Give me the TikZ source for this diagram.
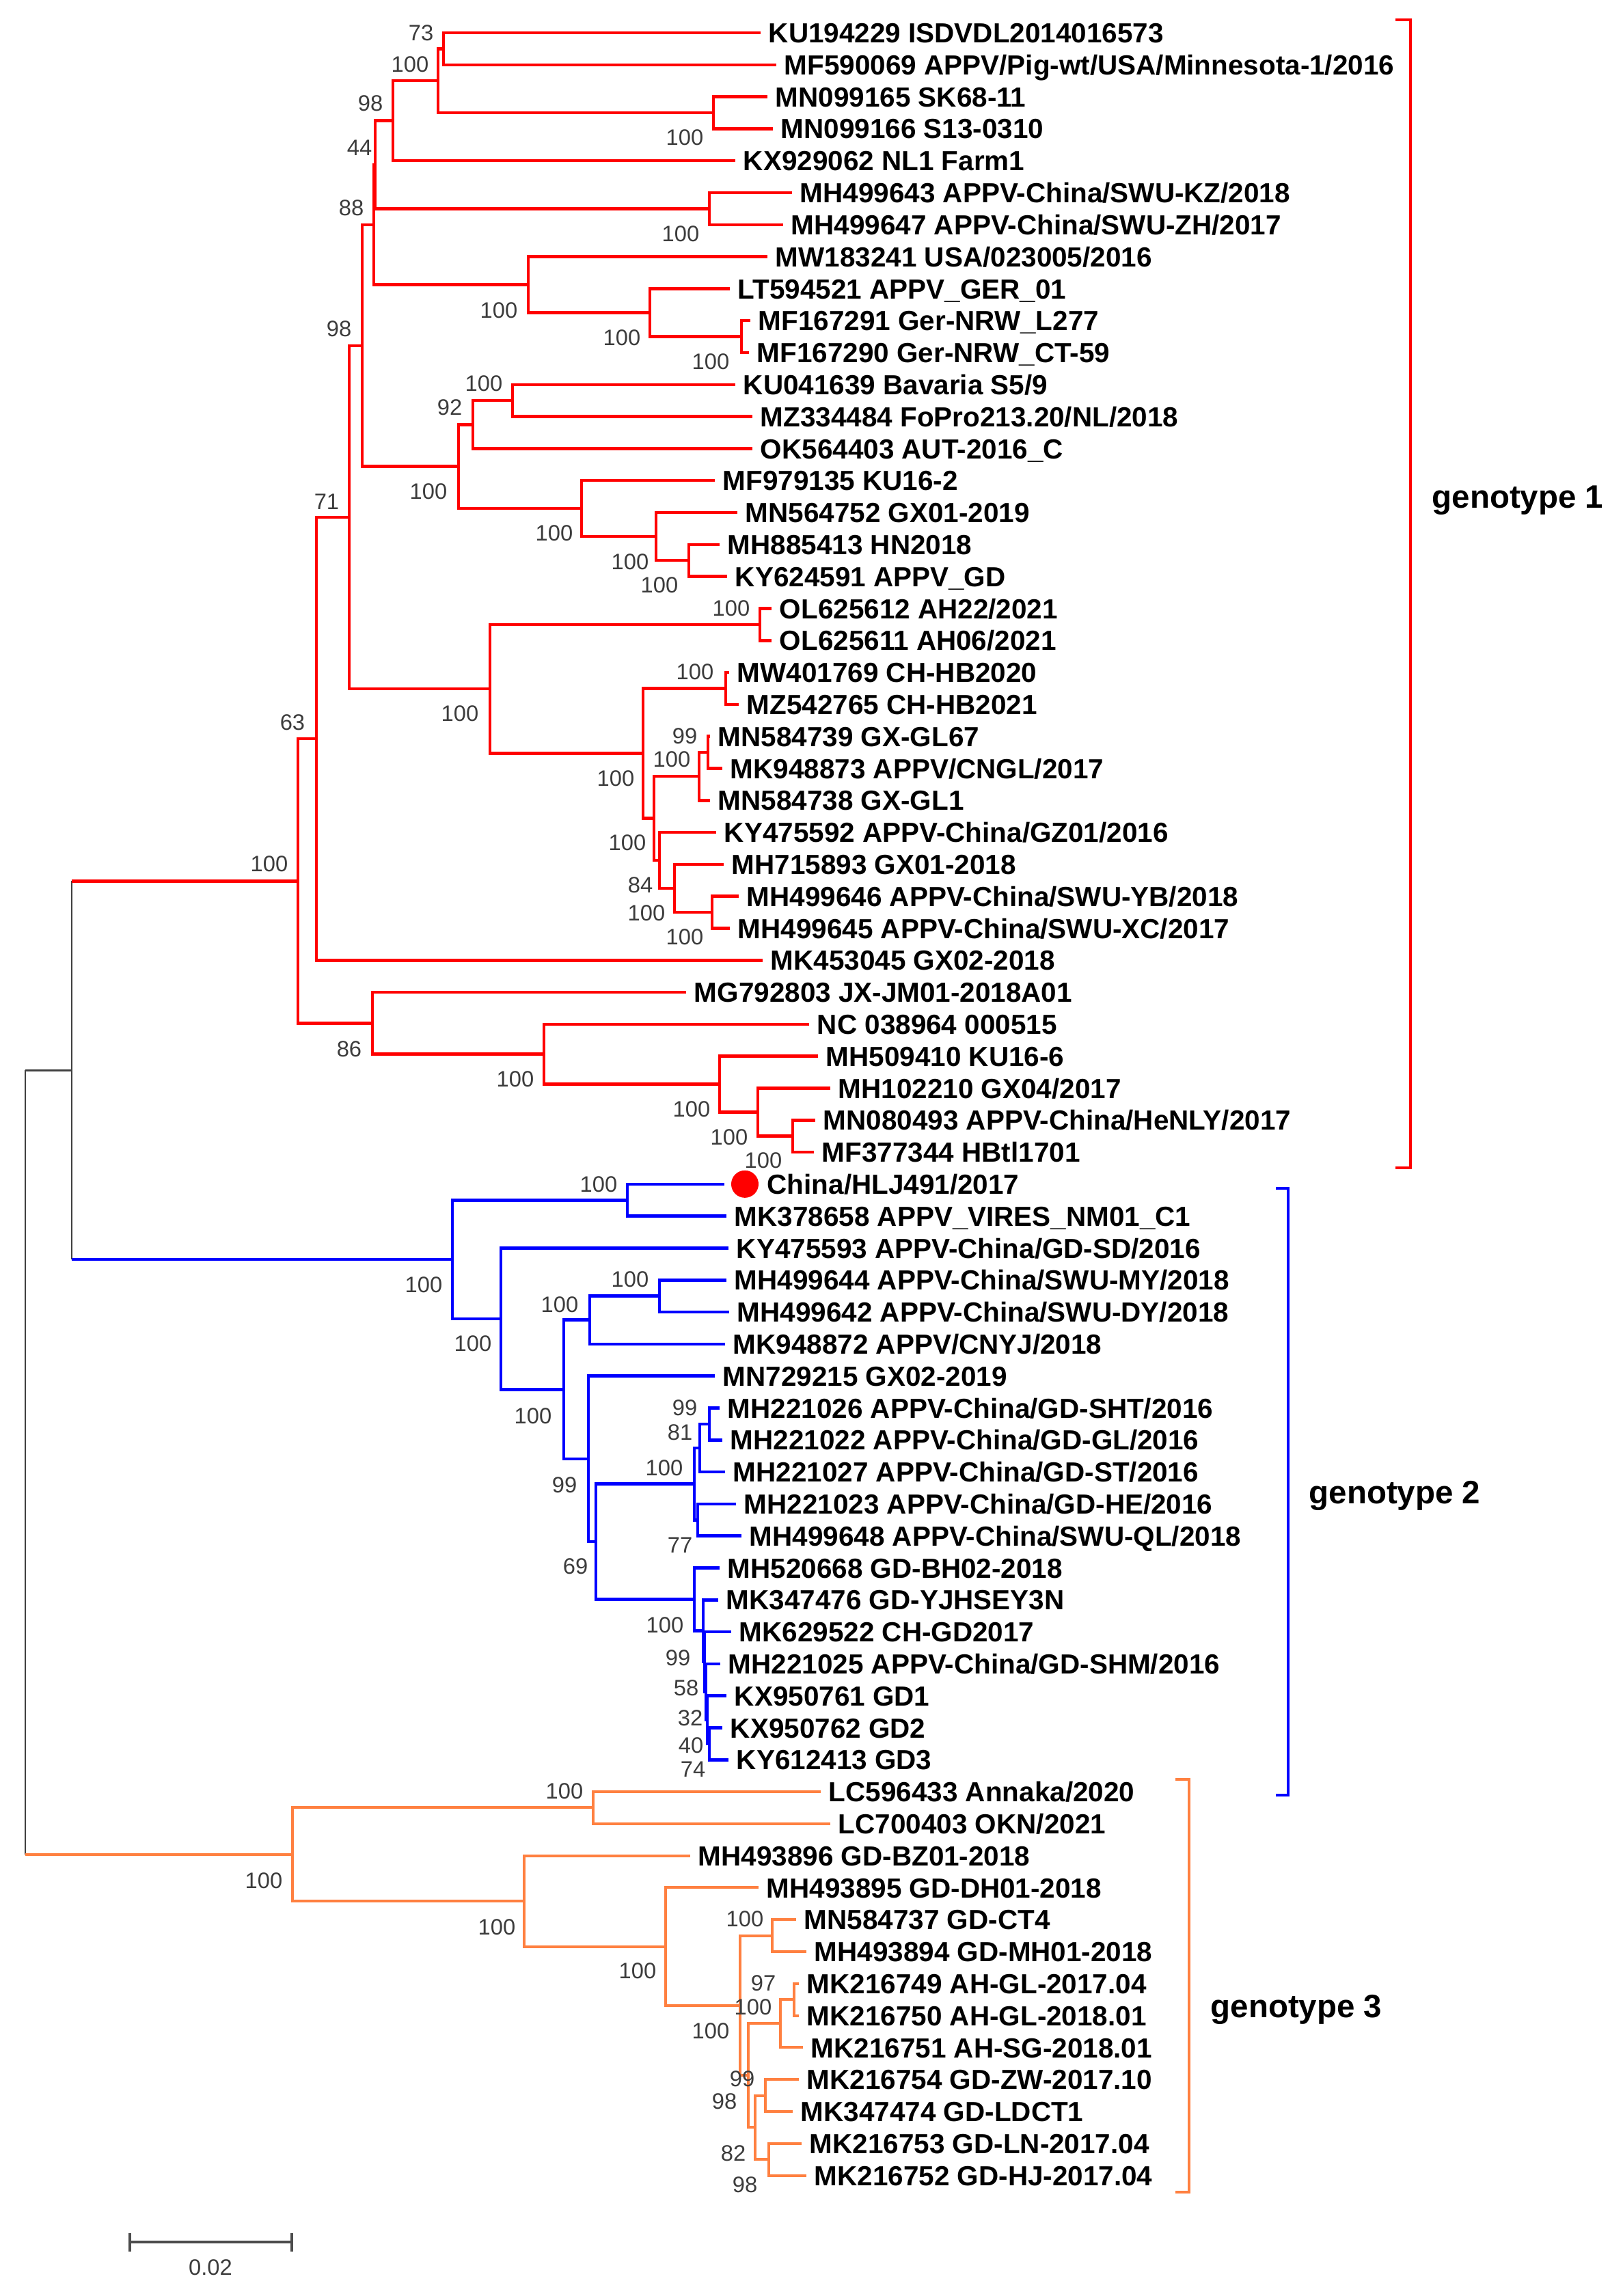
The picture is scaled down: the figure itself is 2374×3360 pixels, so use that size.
\documentclass[tikz,border=0pt]{standalone}
\usepackage{fontspec}
\setmainfont{Liberation Sans}
\usetikzlibrary{positioning}
\definecolor{gred}{RGB}{255,0,0}
\definecolor{gblue}{RGB}{0,0,255}
\definecolor{gorange}{RGB}{255,128,64}
\definecolor{bootgray}{RGB}{60,60,60}

\begin{document}
\begin{tikzpicture}[x=0.01cm, y=-0.01cm,
  redline/.style={draw=gred, line width=1.3pt},
  blueline/.style={draw=gblue, line width=1.3pt},
  orangeline/.style={draw=gorange, line width=1.15pt},
  rootline/.style={draw=black!75, line width=0.8pt},
  taxon/.style={anchor=west, inner xsep=3.2pt, inner ysep=0pt, text height=8.3pt, text depth=0pt, font=\bfseries\fontsize{11.5}{13}\selectfont},
  boot/.style={inner sep=0pt, text height=6.7pt, text depth=0pt, text=bootgray, font=\fontsize{9.3}{11}\selectfont},
  clade/.style={anchor=base west, inner sep=0pt, font=\bfseries\fontsize{13.5}{15}\selectfont},
  bracket/.style={line width=1pt}]

\useasboundingbox (0,0) rectangle (2374,3360);

% genotype 1 taxa
\node[taxon] (t1) at (1113,48) {KU194229 ISDVDL2014016573};
\node[taxon] (t2) at (1136,94.8) {MF590069 APPV/Pig-wt/USA/Minnesota-1/2016};
\node[taxon] (t3) at (1123,141.6) {MN099165 SK68-11};
\node[taxon] (t4) at (1131,188.4) {MN099166 S13-0310};
\node[taxon] (t5) at (1076,235.2) {KX929062 NL1 Farm1};
\node[taxon] (t6) at (1159,282) {MH499643 APPV-China/SWU-KZ/2018};
\node[taxon] (t7) at (1146,328.8) {MH499647 APPV-China/SWU-ZH/2017};
\node[taxon] (t8) at (1123,375.6) {MW183241 USA/023005/2016};
\node[taxon] (t9) at (1068,422.4) {LT594521 APPV\_GER\_01};
\node[taxon] (t10) at (1098,469.2) {MF167291 Ger-NRW\_L277};
\node[taxon] (t11) at (1096,516) {MF167290 Ger-NRW\_CT-59};
\node[taxon] (t12) at (1076,562.8) {KU041639 Bavaria S5/9};
\node[taxon] (t13) at (1101,609.6) {MZ334484 FoPro213.20/NL/2018};
\node[taxon] (t14) at (1101,656.4) {OK564403 AUT-2016\_C};
\node[taxon] (t15) at (1046,703.2) {MF979135 KU16-2};
\node[taxon] (t16) at (1079,750) {MN564752 GX01-2019};
\node[taxon] (t17) at (1053,796.8) {MH885413 HN2018};
\node[taxon] (t18) at (1064,843.6) {KY624591 APPV\_GD};
\node[taxon] (t19) at (1129,890.4) {OL625612 AH22/2021};
\node[taxon] (t20) at (1129,937.2) {OL625611 AH06/2021};
\node[taxon] (t21) at (1067,984) {MW401769 CH-HB2020};
\node[taxon] (t22) at (1081,1030.8) {MZ542765 CH-HB2021};
\node[taxon] (t23) at (1039,1077.6) {MN584739 GX-GL67};
\node[taxon] (t24) at (1057,1124.4) {MK948873 APPV/CNGL/2017};
\node[taxon] (t25) at (1039,1171.2) {MN584738 GX-GL1};
\node[taxon] (t26) at (1048,1218) {KY475592 APPV-China/GZ01/2016};
\node[taxon] (t27) at (1059,1264.8) {MH715893 GX01-2018};
\node[taxon] (t28) at (1081,1311.6) {MH499646 APPV-China/SWU-YB/2018};
\node[taxon] (t29) at (1068,1358.4) {MH499645 APPV-China/SWU-XC/2017};
\node[taxon] (t30) at (1116,1405.2) {MK453045 GX02-2018};
\node[taxon] (t31) at (1004,1452) {MG792803 JX-JM01-2018A01};
\node[taxon] (t32) at (1184,1498.8) {NC 038964 000515};
\node[taxon] (t33) at (1197,1545.6) {MH509410 KU16-6};
\node[taxon] (t34) at (1215,1592.4) {MH102210 GX04/2017};
\node[taxon] (t35) at (1193,1639.2) {MN080493 APPV-China/HeNLY/2017};
\node[taxon] (t36) at (1191,1686) {MF377344 HBtl1701};

% genotype 2 taxa
\coordinate (e37) at (1060,1732.8);
\node[circle, fill=gred, minimum size=0.4cm, inner sep=0pt] (dot) at (1090,1732.8) {};
\node[taxon] (t37) at (dot.east) {China/HLJ491/2017};
\node[taxon] (t38) at (1063,1779.6) {MK378658 APPV\_VIRES\_NM01\_C1};
\node[taxon] (t39) at (1066,1826.4) {KY475593 APPV-China/GD-SD/2016};
\node[taxon] (t40) at (1063,1873.2) {MH499644 APPV-China/SWU-MY/2018};
\node[taxon] (t41) at (1067,1920) {MH499642 APPV-China/SWU-DY/2018};
\node[taxon] (t42) at (1061,1966.8) {MK948872 APPV/CNYJ/2018};
\node[taxon] (t43) at (1046,2013.6) {MN729215 GX02-2019};
\node[taxon] (t44) at (1053,2060.4) {MH221026 APPV-China/GD-SHT/2016};
\node[taxon] (t45) at (1057,2107.2) {MH221022 APPV-China/GD-GL/2016};
\node[taxon] (t46) at (1061,2154) {MH221027 APPV-China/GD-ST/2016};
\node[taxon] (t47) at (1077,2200.8) {MH221023 APPV-China/GD-HE/2016};
\node[taxon] (t48) at (1085,2247.6) {MH499648 APPV-China/SWU-QL/2018};
\node[taxon] (t49) at (1053,2294.4) {MH520668 GD-BH02-2018};
\node[taxon] (t50) at (1051,2341.2) {MK347476 GD-YJHSEY3N};
\node[taxon] (t51) at (1070,2388) {MK629522 CH-GD2017};
\node[taxon] (t52) at (1054,2434.8) {MH221025 APPV-China/GD-SHM/2016};
\node[taxon] (t53) at (1063,2481.6) {KX950761 GD1};
\node[taxon] (t54) at (1057,2528.4) {KX950762 GD2};
\node[taxon] (t55) at (1066,2575.2) {KY612413 GD3};

% genotype 3 taxa
\node[taxon] (t56) at (1201,2622) {LC596433 Annaka/2020};
\node[taxon] (t57) at (1215,2668.8) {LC700403 OKN/2021};
\node[taxon] (t58) at (1010,2715.6) {MH493896 GD-BZ01-2018};
\node[taxon] (t59) at (1110,2762.4) {MH493895 GD-DH01-2018};
\node[taxon] (t60) at (1165,2809.2) {MN584737 GD-CT4};
\node[taxon] (t61) at (1180,2856) {MH493894 GD-MH01-2018};
\node[taxon] (t62) at (1169,2902.8) {MK216749 AH-GL-2017.04};
\node[taxon] (t63) at (1169,2949.6) {MK216750 AH-GL-2018.01};
\node[taxon] (t64) at (1175,2996.4) {MK216751 AH-SG-2018.01};
\node[taxon] (t65) at (1169,3043.2) {MK216754 GD-ZW-2017.10};
\node[taxon] (t66) at (1160,3090) {MK347474 GD-LDCT1};
\node[taxon] (t67) at (1173,3136.8) {MK216753 GD-LN-2017.04};
\node[taxon] (t68) at (1180,3183.6) {MK216752 GD-HJ-2017.04};

% inner nodes, genotype 1
\coordinate (nA) at (649,71.4);
\coordinate (nC) at (1044,165);
\coordinate (nB) at (641,118.2);
\coordinate (nD) at (575,176.7);
\coordinate (nE) at (1038,305.4);
\coordinate (nF) at (549,241.05);
\coordinate (nG) at (1085,492.6);
\coordinate (nH) at (951,457.5);
\coordinate (nI) at (773,416.55);
\coordinate (nJ) at (547,328.8);
\coordinate (nK) at (750,586.2);
\coordinate (nL) at (692,621.3);
\coordinate (nM) at (1008,820.2);
\coordinate (nN) at (960,785.1);
\coordinate (nO) at (851,744.15);
\coordinate (nP) at (671,682.7);
\coordinate (nQ) at (530,505.8);
\coordinate (nR) at (1112,913.8);
\coordinate (nS) at (1062,1007.4);
\coordinate (nW1) at (1036,1101);
\coordinate (nW2) at (1023,1136.1);
\coordinate (nZ2) at (1042,1335);
\coordinate (nZ) at (987,1299.9);
\coordinate (nY) at (965,1258.95);
\coordinate (nV) at (957,1197.5);
\coordinate (nU) at (941,1102.5);
\coordinate (nT) at (717,1008.1);
\coordinate (n71) at (511,756.95);
\coordinate (n63) at (463,1081.1);
\coordinate (nEE) at (1160,1662.6);
\coordinate (nDD) at (1109,1627.5);
\coordinate (nCC) at (1053,1586.55);
\coordinate (nBB) at (796,1542.7);
\coordinate (nAA) at (545,1497.35);
\coordinate (nG1) at (436,1289.2);

% inner nodes, genotype 2
\coordinate (nFF) at (918,1756.2);
\coordinate (nLL) at (965,1896.6);
\coordinate (nJJ) at (863,1931.7);
\coordinate (nPP) at (1038,2083.8);
\coordinate (nQQ) at (1024,2118.9);
\coordinate (nRR) at (1021,2224.2);
\coordinate (nNN) at (1016,2171.55);
\coordinate (nWb) at (1038,2551.8);
\coordinate (nZb) at (1035,2516.7);
\coordinate (nYb) at (1033,2475.75);
\coordinate (nXb) at (1031,2431.9);
\coordinate (nSS) at (1029,2386.55);
\coordinate (nOO) at (1016,2340.5);
\coordinate (nMM) at (872,2256);
\coordinate (nKK) at (861,2134.8);
\coordinate (nII) at (825,2033.25);
\coordinate (nHH) at (733,1929.8);
\coordinate (nGG) at (662,1843);

% inner nodes, genotype 3
\coordinate (nUU) at (868,2645.4);
\coordinate (nYY) at (1130,2832.6);
\coordinate (na1) at (1162,2926.2);
\coordinate (na2) at (1142,2961.3);
\coordinate (na3) at (1120,3066.6);
\coordinate (na4) at (1125,3160.2);
\coordinate (na5) at (1105,3113.4);
\coordinate (na6) at (1095,3037.35);
\coordinate (nXX) at (1083,2935);
\coordinate (nWW) at (974,2848.7);
\coordinate (nVV) at (767,2782.15);
\coordinate (nG3) at (428,2713.8);

\coordinate (nG12) at (105,1566.1);
\coordinate (nroot) at (37,2139.95);

% branches, genotype 1
\draw[redline] (nA) |- (t1.west) (nA) |- (t2.west);
\draw[redline] (nC) |- (t3.west) (nC) |- (t4.west);
\draw[redline] (nB) |- (nA) (nB) |- (nC);
\draw[redline] (nD) |- (nB) (nD) |- (t5.west);
\draw[redline] (nE) |- (t6.west) (nE) |- (t7.west);
\draw[redline] (nF) |- (nD) (nF) |- (nE);
\draw[redline] (nG) |- (t10.west) (nG) |- (t11.west);
\draw[redline] (nH) |- (t9.west) (nH) |- (nG);
\draw[redline] (nI) |- (t8.west) (nI) |- (nH);
\draw[redline] (nJ) |- (nF) (nJ) |- (nI);
\draw[redline] (nK) |- (t12.west) (nK) |- (t13.west);
\draw[redline] (nL) |- (nK) (nL) |- (t14.west);
\draw[redline] (nM) |- (t17.west) (nM) |- (t18.west);
\draw[redline] (nN) |- (t16.west) (nN) |- (nM);
\draw[redline] (nO) |- (t15.west) (nO) |- (nN);
\draw[redline] (nP) |- (nL) (nP) |- (nO);
\draw[redline] (nQ) |- (nJ) (nQ) |- (nP);
\draw[redline] (nR) |- (t19.west) (nR) |- (t20.west);
\draw[redline] (nS) |- (t21.west) (nS) |- (t22.west);
\draw[redline] (nW1) |- (t23.west) (nW1) |- (t24.west);
\draw[redline] (nW2) |- (nW1) (nW2) |- (t25.west);
\draw[redline] (nZ2) |- (t28.west) (nZ2) |- (t29.west);
\draw[redline] (nZ) |- (t27.west) (nZ) |- (nZ2);
\draw[redline] (nY) |- (t26.west) (nY) |- (nZ);
\draw[redline] (nV) |- (nW2) (nV) |- (nY);
\draw[redline] (nU) |- (nS) (nU) |- (nV);
\draw[redline] (nT) |- (nR) (nT) |- (nU);
\draw[redline] (n71) |- (nQ) (n71) |- (nT);
\draw[redline] (n63) |- (n71) (n63) |- (t30.west);
\draw[redline] (nEE) |- (t35.west) (nEE) |- (t36.west);
\draw[redline] (nDD) |- (t34.west) (nDD) |- (nEE);
\draw[redline] (nCC) |- (t33.west) (nCC) |- (nDD);
\draw[redline] (nBB) |- (t32.west) (nBB) |- (nCC);
\draw[redline] (nAA) |- (t31.west) (nAA) |- (nBB);
\draw[redline] (nG1) |- (n63) (nG1) |- (nAA);

% branches, genotype 2
\draw[blueline] (nFF) |- (e37) (nFF) |- (t38.west);
\draw[blueline] (nLL) |- (t40.west) (nLL) |- (t41.west);
\draw[blueline] (nJJ) |- (nLL) (nJJ) |- (t42.west);
\draw[blueline] (nPP) |- (t44.west) (nPP) |- (t45.west);
\draw[blueline] (nQQ) |- (nPP) (nQQ) |- (t46.west);
\draw[blueline] (nRR) |- (t47.west) (nRR) |- (t48.west);
\draw[blueline] (nNN) |- (nQQ) (nNN) |- (nRR);
\draw[blueline] (nWb) |- (t54.west) (nWb) |- (t55.west);
\draw[blueline] (nZb) |- (t53.west) (nZb) |- (nWb);
\draw[blueline] (nYb) |- (t52.west) (nYb) |- (nZb);
\draw[blueline] (nXb) |- (t51.west) (nXb) |- (nYb);
\draw[blueline] (nSS) |- (t50.west) (nSS) |- (nXb);
\draw[blueline] (nOO) |- (t49.west) (nOO) |- (nSS);
\draw[blueline] (nMM) |- (nNN) (nMM) |- (nOO);
\draw[blueline] (nKK) |- (t43.west) (nKK) |- (nMM);
\draw[blueline] (nII) |- (nJJ) (nII) |- (nKK);
\draw[blueline] (nHH) |- (t39.west) (nHH) |- (nII);
\draw[blueline] (nGG) |- (nFF) (nGG) |- (nHH);

% branches, genotype 3
\draw[orangeline] (nUU) |- (t56.west) (nUU) |- (t57.west);
\draw[orangeline] (nYY) |- (t60.west) (nYY) |- (t61.west);
\draw[orangeline] (na1) |- (t62.west) (na1) |- (t63.west);
\draw[orangeline] (na2) |- (na1) (na2) |- (t64.west);
\draw[orangeline] (na3) |- (t65.west) (na3) |- (t66.west);
\draw[orangeline] (na4) |- (t67.west) (na4) |- (t68.west);
\draw[orangeline] (na5) |- (na3) (na5) |- (na4);
\draw[orangeline] (na6) |- (na2) (na6) |- (na5);
\draw[orangeline] (nXX) |- (nYY) (nXX) |- (na6);
\draw[orangeline] (nWW) |- (t59.west) (nWW) |- (nXX);
\draw[orangeline] (nVV) |- (t58.west) (nVV) |- (nWW);
\draw[orangeline] (nG3) |- (nUU) (nG3) |- (nVV);

% root
\draw[rootline] (nG12 |- nG1) -- (nG12 |- nGG);
\draw[redline] (nG12 |- nG1) -- (nG1);
\draw[blueline] (nG12 |- nGG) -- (nGG);
\draw[rootline] (nroot |- nG12) -- (nroot |- nG3);
\draw[rootline] (nroot |- nG12) -- (nG12);
\draw[orangeline] (nroot |- nG3) -- (nG3);

% bootstrap values
\node[boot] (bA) at (616,48) {73};
\node[boot] (bB) at (600,94) {100};
\node[boot] (bD) at (542,151) {98};
\node[boot] (bC) at (1002,201) {100};
\node[boot] (bF) at (526,216) {44};
\node[boot] (bJ) at (514,304) {88};
\node[boot] (bE) at (996,342) {100};
\node[boot] (bI) at (730,454) {100};
\node[boot] (bH) at (910,494) {100};
\node[boot] (bQ) at (496,481) {98};
\node[boot] (bG) at (1040,529) {100};
\node[boot] (bK) at (708,561) {100};
\node[boot] (bL) at (658,596) {92};
\node[boot] (bP) at (627,719) {100};
\node[boot] (b71) at (478,734) {71};
\node[boot] (bO) at (811,780) {100};
\node[boot] (bN) at (922,822) {100};
\node[boot] (bM) at (965,856) {100};
\node[boot] (bR) at (1070,890) {100};
\node[boot] (bS) at (1017,983) {100};
\node[boot] (bT) at (673,1044) {100};
\node[boot] (b63) at (428,1057) {63};
\node[boot] (bW1) at (1002,1077) {99};
\node[boot] (bW2) at (983,1111) {100};
\node[boot] (bU) at (901,1139) {100};
\node[boot] (bV) at (918,1233) {100};
\node[boot] (bY) at (937,1295) {84};
\node[boot] (bZ) at (946,1336) {100};
\node[boot] (bZ2) at (1002,1371) {100};
\node[boot] (bG1) at (394,1264) {100};
\node[boot] (bAA) at (511,1535) {86};
\node[boot] (bBB) at (754,1579) {100};
\node[boot] (bCC) at (1012,1623) {100};
\node[boot] (bDD) at (1067,1664) {100};
\node[boot] (bEE) at (1117,1698) {100};

\node[boot] (bFF) at (876,1733) {100};
\node[boot] (bGG) at (620,1880) {100};
\node[boot] (bHH) at (692,1966) {100};
\node[boot] (bJJ) at (819,1909) {100};
\node[boot] (bLL) at (922,1872) {100};
\node[boot] (bII) at (780,2072) {100};
\node[boot] (bPP) at (1002,2060) {99};
\node[boot] (bQQ) at (995,2096) {81};
\node[boot] (bNN) at (972,2148) {100};
\node[boot] (bKK) at (826,2173) {99};
\node[boot] (bRR) at (995,2261) {77};
\node[boot] (bMM) at (842,2292) {69};
\node[boot] (bOO) at (973,2378) {100};
\node[boot] (bSS) at (992,2426) {99};
\node[boot] (bXb) at (1004,2470) {58};
\node[boot] (bYb) at (1010,2514) {32};
\node[boot] (bZb) at (1011,2554) {40};
\node[boot] (bWb) at (1014,2589) {74};

\node[boot] (bUU) at (826,2621) {100};
\node[boot] (bG3) at (386,2752) {100};
\node[boot] (bVV) at (727,2820) {100};
\node[boot] (bWW) at (933,2884) {100};
\node[boot] (bYY) at (1090,2808) {100};
\node[boot] (ba1) at (1117,2902) {97};
\node[boot] (ba2) at (1102,2937) {100};
\node[boot] (bXX) at (1040,2972) {100};
\node[boot] (ba3) at (1086,3042) {99};
\node[boot] (ba6) at (1060,3075) {98};
\node[boot] (ba5) at (1073,3151) {82};
\node[boot] (ba4) at (1090,3197) {98};

% genotype brackets
\draw[bracket, gred] (2042,29) -- (2064,29) -- (2064,1709) -- (2042,1709);
\node[clade] (geno1) at (2095,743) {genotype 1};
\draw[bracket, gblue] (1867,1739) -- (1885,1739) -- (1885,2627) -- (1867,2627);
\node[clade] (geno2) at (1915,2200) {genotype 2};
\draw[bracket, gorange] (1720,2604) -- (1740,2604) -- (1740,3208) -- (1720,3208);
\node[clade] (geno3) at (1771,2952) {genotype 3};

% scale bar
\coordinate (sbl) at (190,3281);
\coordinate (sbr) at (427,3281);
\draw[black!70, line width=1.1pt] (sbl) -- (sbr);
\draw[black!70, line width=1.1pt] (190,3268) -- (190,3295) (427,3268) -- (427,3295);
\node[boot] (sbtext) at (308,3318) {0.02};

\end{tikzpicture}
\end{document}
